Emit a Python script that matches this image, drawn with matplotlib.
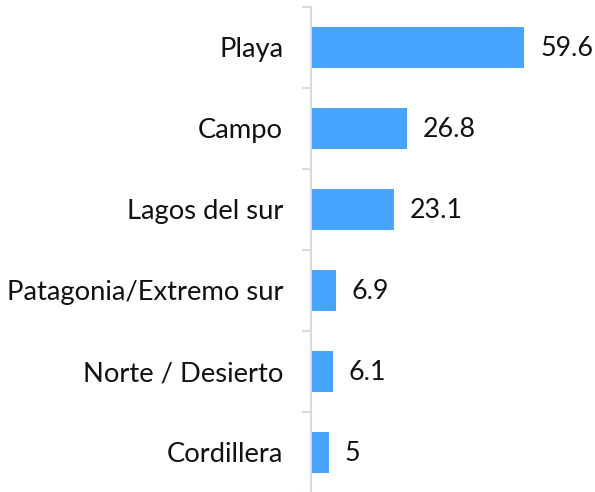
import matplotlib
matplotlib.use("Agg")
from matplotlib import pyplot as plt
import numpy as np

categories = ['Playa', 'Campo', 'Lagos del sur', 'Patagonia/Extremo sur',
              'Norte / Desierto', 'Cordillera']
values = [59.6, 26.8, 23.1, 6.9, 6.1, 5]
value_labels = ['59.6', '26.8', '23.1', '6.9', '6.1', '5']

plt.rcParams['font.family'] = ['Lato', 'DejaVu Sans']

fig = plt.figure(figsize=(5.95, 4.92), dpi=100)
ax = fig.add_axes([311 / 595, -0.002, 284 / 595, 0.9878])

y = np.arange(len(categories))
ax.barh(y, values, height=0.5, color='#47A5FF')
ax.set_ylim(len(categories) - 0.5, -0.5)
ax.set_xlim(0, 284 / 3.574)

for yi, v, lab in zip(y, values, value_labels):
    ax.annotate(lab, (v, yi), xytext=(11.5, -1), textcoords='offset points',
                va='center', ha='left', fontsize=19.3, color='#111111')

ax.set_yticks(y)
ax.set_yticklabels(categories, fontsize=19.7, color='#111111')
ax.tick_params(axis='y', which='major', length=0, pad=20)
ax.set_yticks(np.arange(-0.5, len(categories)), minor=True)
ax.tick_params(axis='y', which='minor', length=6.5, width=1.5, color='#D9D9D9')
ax.set_xticks([])

for s in ['top', 'right', 'bottom']:
    ax.spines[s].set_visible(False)
ax.spines['left'].set_color('#D9D9D9')
ax.spines['left'].set_linewidth(1.5)

fig.savefig('out.png', dpi=100)
